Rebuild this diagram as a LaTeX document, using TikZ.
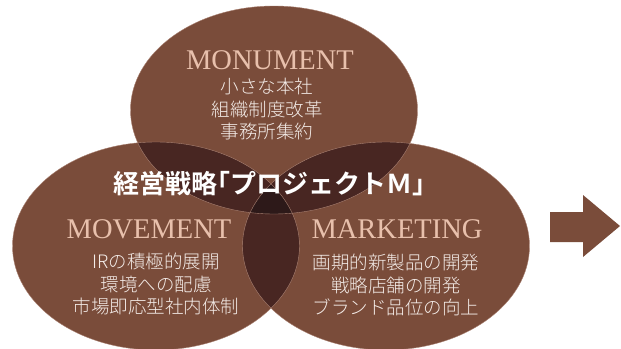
\documentclass[tikz,border=0pt]{standalone}
\usepackage{fontspec}
\setmainfont{Liberation Serif}
\newfontfamily\jpfont{Noto Sans CJK JP Light}
\newfontfamily\jpbold{Noto Sans CJK JP Bold}
\definecolor{brownmain}{RGB}{122,76,58}
\definecolor{browndark}{RGB}{72,38,34}
\definecolor{browndeep}{RGB}{45,25,25}
\definecolor{edgelight}{RGB}{170,130,115}
\definecolor{titlepink}{RGB}{232,192,172}
\definecolor{textlight}{RGB}{244,236,232}
\begin{document}
\begin{tikzpicture}[x=1pt,y=-1pt,
  ringtitle/.style={text=titlepink,font=\fontsize{28.5}{28.5}\selectfont,inner sep=0pt},
  ringtext/.style={text=textlight,font=\jpfont\fontsize{18.5}{22.5}\selectfont,align=center,inner sep=0pt},
  ringedge/.style={draw=edgelight,line width=0.4pt}]
\useasboundingbox (0,0) rectangle (621,348);
\def\topE{(274,110) ellipse [x radius=143.5pt, y radius=104pt]}
\def\leftE{(156,246) ellipse [x radius=143.5pt, y radius=104pt]}
\def\rightE{(386,246) ellipse [x radius=143.5pt, y radius=104pt]}
% base fills
\fill[brownmain] \topE;
\fill[brownmain] \leftE;
\fill[brownmain] \rightE;
% pairwise overlaps
\begin{scope}\clip \topE; \fill[browndark] \leftE; \fill[browndark] \rightE; \end{scope}
\begin{scope}\clip \leftE; \fill[browndark] \rightE; \end{scope}
% triple overlap
\begin{scope}\clip \topE; \clip \leftE; \fill[browndeep] \rightE; \end{scope}
% outlines
\draw[ringedge] \topE;
\draw[ringedge] \leftE;
\draw[ringedge] \rightE;
% arrow
\fill[brownmain] (550,212) -- (583,212) -- (583,195) -- (620,226) -- (583,257) -- (583,242) -- (550,242) -- cycle;
% texts
\node[ringtitle] (mon) at (270,60) {MONUMENT};
\node[ringtext] (monl) at (267,109) {小さな本社\\組織制度改革\\事務所集約};
\node[ringtitle] (mov) at (149,229) {MOVEMENT};
\node[ringtext] (movl) at (156,284) {IRの積極的展開\\環境への配慮\\市場即応型社内体制};
\node[ringtitle] (mar) at (397,229) {MARKETING};
\node[ringtext] (marl) at (396,285) {画期的新製品の開発\\戦略店舗の開発\\ブランド品位の向上};
\node[text=white,font=\jpbold\fontsize{26}{26}\selectfont,inner sep=0pt] (core) at (269,184) {経営戦略\kern-0.5em「プロジェクトＭ」\kern-0.5em};
\end{tikzpicture}
\end{document}
